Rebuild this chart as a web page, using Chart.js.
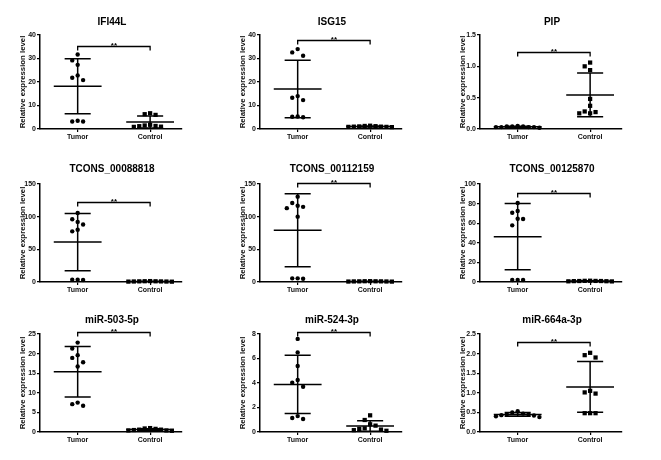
<!DOCTYPE html>
<html>
<head>
<meta charset="utf-8">
<script src="https://cdn.jsdelivr.net/npm/chart.js@4"></script>
<style>
body { margin: 0; background: #fff; }
#wrap { position: relative; width: 661px; height: 460px; }
#wrap canvas { position: absolute; }
</style>
</head>
<body>
<div id="wrap"></div>
<script>
// groups on the x axis
const groups = ['Tumor', 'Control'];

// values
const ifi44lTumor = [31.7, 29.2, 27.3, 22.8, 21.8, 20.8, 3.5, 3.2, 3.2];
const ifi44lControl = [6.7, 6.3, 6.0, 1.8, 1.5, 1.3, 1.2, 1.0, 0.9];
const isg15Tumor = [34.0, 32.6, 31.2, 14.0, 13.3, 12.3, 5.3, 5.2, 5.0];
const isg15Control = [1.3, 1.4, 1.2, 1.0, 0.9, 1.1, 0.8, 0.9, 1.0];
const pipTumor = [0.05, 0.04, 0.04, 0.03, 0.03, 0.03, 0.02, 0.03, 0.04];
const pipControl = [1.06, 1.00, 0.94, 0.48, 0.37, 0.27, 0.28, 0.25, 0.25];
const tcons88818Tumor = [105.6, 96, 92, 88, 80, 77.5, 3.6, 3.0, 3.6];
const tcons88818Control = [1.2, 0.8, 1.0, 0.6, 1.4, 0.9, 0.7, 1.1, 0.5];
const tcons112159Tumor = [130.6, 121, 116.8, 115, 113, 100, 5.6, 5.0, 5.6];
const tcons112159Control = [1.0, 0.7, 1.3, 0.9, 1.1, 0.6, 1.2, 0.8, 1.0];
const tcons125870Tumor = [80.6, 72.4, 70.7, 64.6, 64.3, 57.8, 2.0, 2.0, 2.0];
const tcons125870Control = [1.1, 0.8, 1.3, 0.9, 1.0, 0.6, 1.2, 0.7, 1.0];
const mir503Tumor = [22.8, 21.3, 19.6, 18.9, 17.8, 16.7, 7.5, 7.1, 6.7];
const mir503Control = [1.0, 0.4, 0.6, 0.9, 0.5, 0.8, 0.3, 0.6, 0.4];
const mir524Tumor = [7.6, 6.5, 5.39, 4.24, 4.03, 3.7, 1.3, 1.14, 1.06];
const mir524Control = [1.36, 0.98, 0.63, 0.52, 0.30, 0.25, 0.20, 0.10, 0.15];
const mir664Tumor = [0.53, 0.50, 0.47, 0.45, 0.45, 0.43, 0.42, 0.40, 0.38];
const mir664Control = [2.02, 1.96, 1.90, 1.05, 1.01, 0.98, 0.48, 0.48, 0.48];

const titles = ['IFI44L', 'ISG15', 'PIP', 'TCONS_00088818', 'TCONS_00112159', 'TCONS_00125870', 'miR-503-5p', 'miR-524-3p', 'miR-664a-3p'];
const tumorSets = [ifi44lTumor, isg15Tumor, pipTumor, tcons88818Tumor, tcons112159Tumor, tcons125870Tumor, mir503Tumor, mir524Tumor, mir664Tumor];
const controlSets = [ifi44lControl, isg15Control, pipControl, tcons88818Control, tcons112159Control, tcons125870Control, mir503Control, mir524Control, mir664Control];
const yMax = [40, 40, 1.5, 150, 150, 100, 25, 8, 2.5];
const yStep = [10, 10, 0.5, 50, 50, 20, 5, 2, 0.5];
// height of the "**" bracket, in axis units
const sigLevel = [35.5, 37.9, 1.23, 122, 151, 91, 25.4, 8.14, 2.3];

const FONT = "'Liberation Sans', Arial, sans-serif";

// spread points sideways where they would overlap (like a column scatter)
function swarm(vals, center, range) {
    let placed = [];
    let sorted = vals.slice().sort((a, b) => b - a);
    sorted.forEach(v => {
        let k = 0;
        for (let i = 0; i < 20; i++) {
            k = i === 0 ? 0 : (i % 2 ? -Math.ceil(i / 2) : Math.ceil(i / 2));
            let hit = placed.some(p => p.k === k && Math.abs(p.v - v) / range * 97 < 7);
            if (!hit) break;
        }
        placed.push({v: v, k: k});
    });
    return placed.map(p => ({x: center + p.k * 0.075, y: p.v}));
}

function meanSd(vals) {
    let m = vals.reduce((a, b) => a + b, 0) / vals.length;
    let ss = vals.reduce((a, b) => a + (b - m) * (b - m), 0);
    return [m, Math.sqrt(ss / (vals.length - 1))];
}

function errorLines(vals, c) {
    let [m, sd] = meanSd(vals);
    let gap = {x: NaN, y: NaN};
    return [
        {x: c - 0.33, y: m}, {x: c + 0.33, y: m}, gap,
        {x: c - 0.18, y: m + sd}, {x: c + 0.18, y: m + sd}, gap,
        {x: c - 0.18, y: m - sd}, {x: c + 0.18, y: m - sd}, gap,
        {x: c, y: m - sd}, {x: c, y: m + sd}
    ];
}

const panelPlugin = {
    id: 'panelExtras',
    afterDatasetsDraw(chart, args, opts) {
        const ctx = chart.ctx;
        const xs = chart.scales.x, ys = chart.scales.y;
        const x1 = xs.getPixelForValue(1), x2 = xs.getPixelForValue(2);
        const y = Math.round(ys.getPixelForValue(opts.level)) + 0.5;
        ctx.save();
        ctx.strokeStyle = '#000';
        ctx.lineWidth = 1.3;
        ctx.beginPath();
        ctx.moveTo(x1, y + 4);
        ctx.lineTo(x1, y);
        ctx.lineTo(x2, y);
        ctx.lineTo(x2, y + 4);
        ctx.stroke();
        ctx.fillStyle = '#000';
        ctx.font = 'bold 8px ' + FONT;
        ctx.textAlign = 'center';
        ctx.textBaseline = 'alphabetic';
        ctx.fillText('**', (x1 + x2) / 2, y + 1.5);
        // panel title
        ctx.font = 'bold 10px ' + FONT;
        ctx.textBaseline = 'middle';
        ctx.fillText(opts.title, (chart.chartArea.left + chart.chartArea.right) / 2 + 1, opts.titleY);
        ctx.restore();
    }
};

const wrap = document.getElementById('wrap');
const rowTop = [0, 150, 300];
const rowHeight = [150, 150, 160];
const areaTop = [35, 34, 34];
const areaBottom = [129, 132, 132];
const titleY = [22, 19.5, 20];

titles.forEach((title, i) => {
    let row = Math.floor(i / 3), col = i % 3;
    let canvas = document.createElement('canvas');
    canvas.width = 220;
    canvas.height = rowHeight[row];
    canvas.style.left = (col * 220) + 'px';
    canvas.style.top = rowTop[row] + 'px';
    wrap.appendChild(canvas);

    let step = yStep[i];
    let decimals = step < 1 ? 1 : 0;

    new Chart(canvas.getContext('2d'), {
        type: 'scatter',
        data: {
            datasets: [
                {
                    data: swarm(tumorSets[i], 1, yMax[i]),
                    pointStyle: 'circle',
                    pointRadius: 2.2,
                    backgroundColor: '#000',
                    borderColor: '#000',
                    borderWidth: 0,
                    clip: false
                },
                {
                    data: swarm(controlSets[i], 2, yMax[i]),
                    pointStyle: 'rect',
                    pointRadius: 3.0,
                    backgroundColor: '#000',
                    borderColor: '#000',
                    borderWidth: 0,
                    clip: false
                },
                {
                    data: errorLines(tumorSets[i], 1),
                    showLine: true,
                    spanGaps: false,
                    pointRadius: 0,
                    borderColor: '#000',
                    borderWidth: 1.5,
                    clip: false
                },
                {
                    data: errorLines(controlSets[i], 2),
                    showLine: true,
                    spanGaps: false,
                    pointRadius: 0,
                    borderColor: '#000',
                    borderWidth: 1.5,
                    clip: false
                }
            ]
        },
        options: {
            responsive: false,
            animation: false,
            devicePixelRatio: 1,
            layout: {
                padding: {
                    left: 18,
                    right: 38,
                    top: areaTop[row],
                    bottom: rowHeight[row] - areaBottom[row] - 18
                }
            },
            plugins: {
                legend: {display: false},
                tooltip: {enabled: false},
                panelExtras: {level: sigLevel[i], title: title, titleY: titleY[row]}
            },
            scales: {
                x: {
                    type: 'linear',
                    min: 0.48,
                    max: 2.44,
                    afterBuildTicks: s => { s.ticks = [{value: 1}, {value: 2}]; },
                    afterFit: s => { s.height = 18; },
                    grid: {display: true, drawOnChartArea: false, drawTicks: true, tickLength: 3, color: '#000', lineWidth: 1.2},
                    border: {display: true, color: '#000', width: 1.5},
                    ticks: {
                        padding: 1,
                        color: '#111',
                        font: {family: FONT, size: 7, weight: 'bold'},
                        callback: v => groups[v - 1]
                    }
                },
                y: {
                    min: 0,
                    max: yMax[i],
                    afterFit: s => { s.width = 22; },
                    grid: {display: true, drawOnChartArea: false, drawTicks: true, tickLength: 3, color: '#000', lineWidth: 1.2},
                    border: {display: true, color: '#000', width: 1.5},
                    ticks: {
                        stepSize: step,
                        padding: 1,
                        color: '#111',
                        font: {family: FONT, size: 7, weight: 'bold'},
                        callback: v => v.toFixed(decimals)
                    },
                    title: {
                        display: true,
                        text: 'Relative expression level',
                        color: '#111',
                        padding: 0,
                        font: {family: FONT, size: 7.8, weight: 'bold'}
                    }
                }
            }
        },
        plugins: [panelPlugin]
    });
});
</script>
</body>
</html>
